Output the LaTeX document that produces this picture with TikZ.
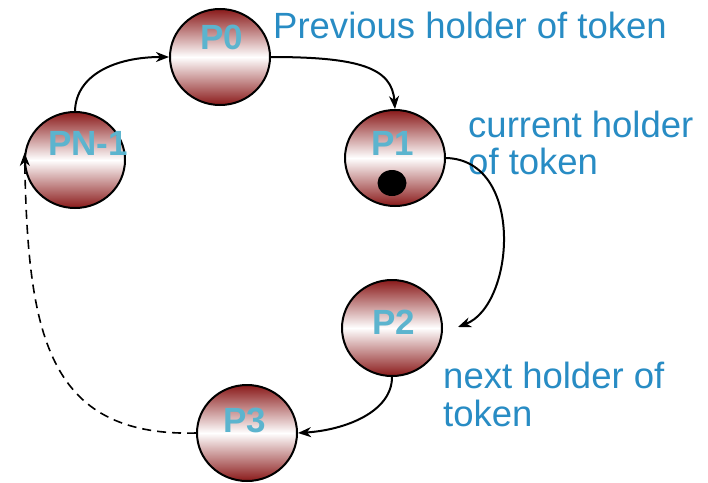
\documentclass[tikz,border=0pt]{standalone}
\usepackage{fontspec}
\setmainfont{Liberation Sans}
\usetikzlibrary{arrows.meta,shapes.geometric,calc}
\definecolor{dred}{RGB}{138,26,26}
\definecolor{plabelc}{RGB}{92,180,206}
\definecolor{notec}{RGB}{40,140,196}
\tikzset{
  proc/.style={ellipse, draw=black, line width=2pt, minimum width=100pt, minimum height=96pt,
    inner sep=0pt, top color=dred, bottom color=dred, middle color=white},
  plabel/.style={text=plabelc, font=\fontsize{35}{35}\selectfont\bfseries, inner sep=0pt},
  note/.style={text=notec, font=\fontsize{36.5}{38}\selectfont, inner sep=0pt, anchor=base west},
  link/.style={line width=2pt, -{Stealth[length=13pt,width=10pt,inset=4pt]}},
}
\begin{document}
\begin{tikzpicture}[x=1pt,y=-1pt]
\useasboundingbox (0,0) rectangle (708,482);

% processes on the ring
\node[proc] (p0) at (220,57) {};
\node[proc] (p1) at (395,158) {};
\node[proc] (pn) at (75,160) {};
\node[proc] (p2) at (392,328) {};
\node[proc] (p3) at (247,433) {};

% the token
\node[ellipse, fill=black, minimum width=29pt, minimum height=26pt, inner sep=0pt] (tok) at (392,183) {};

% process names
\node[plabel] (l0) at (222,37) {P0};
\node[plabel] (l1) at (393,143) {P1};
\node[plabel] (ln) at (88,143) {PN-1};
\node[plabel] (l2) at (394,322) {P2};
\node[plabel] (l3) at (245,420) {P3};

% notes
\node[note] (n0) at (273,38) {Previous holder of token};
\node[note] (n1a) at (468,137) {current holder};
\node[note] (n1b) at (468,174) {of token};
\node[note] (n2a) at (443,388) {next holder of};
\node[note] (n2b) at (443,426) {token};

% token passing
\coordinate (p2in) at ($(p2.east)+(15,-1)$);
\draw[link] (pn.north) .. controls (76,75) and (115,57) .. (p0.west);
\draw[link] (p0.east) .. controls (360,57) and (392,68) .. (p1.north);
\draw[link] (p1.east) .. controls (525,160) and (515,305) .. (p2in);
\draw[link] (p2.south) .. controls (392,412) and (345,430) .. (p3.east);
\draw[link, dashed, dash pattern=on 9pt off 6pt, line width=1.6pt] (p3.west) .. controls (45,437) and (28,330) .. (pn.172);
\end{tikzpicture}
\end{document}
